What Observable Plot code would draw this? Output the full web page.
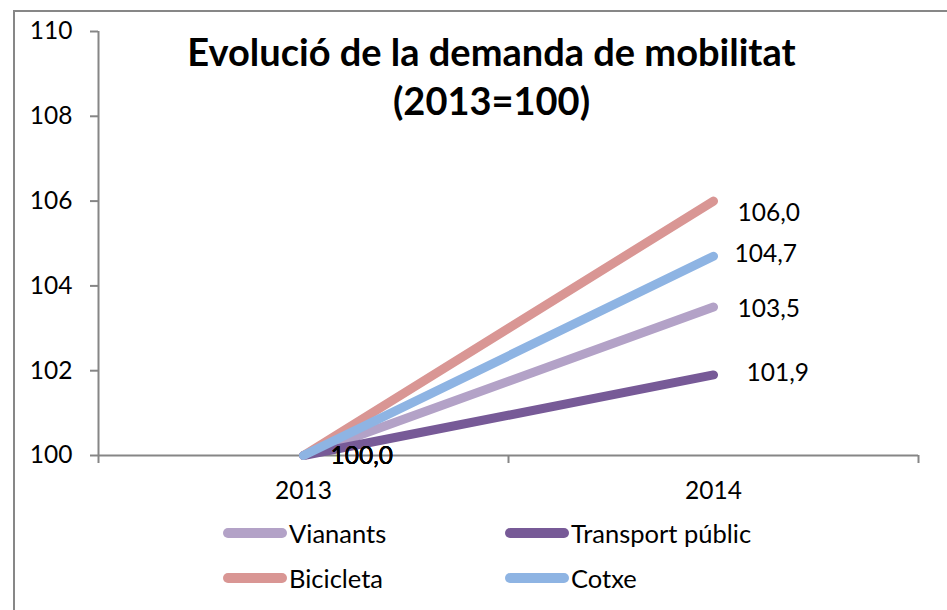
<!DOCTYPE html>
<html><head><meta charset="utf-8">
<script src="https://cdn.jsdelivr.net/npm/d3@7"></script>
<script src="https://cdn.jsdelivr.net/npm/@observablehq/plot@0.6"></script>
<style>
html,body{margin:0;padding:0;background:#fff}
body{width:947px;height:610px;overflow:hidden;position:relative;font-family:Lato,"Open Sans",sans-serif}
#border{position:absolute;left:13px;top:10px;width:1100px;height:800px;border:2px solid #878787;box-sizing:border-box;pointer-events:none}
#chart{position:absolute;left:0;top:0}
#chart svg{display:block;overflow:visible}
#legend{position:absolute;left:223px;top:510px;display:grid;grid-template-columns:282px 282px;grid-auto-rows:45px;font-size:25.5px;color:#000}
.item{display:flex;align-items:center;height:45px}
.sw{width:64px;height:10px;border-radius:5px;margin-right:2px;flex:none}
</style></head>
<body>
<div id="border"></div>
<div id="chart"></div>
<div id="legend"></div>
<script>
const years = [2013, 2014];
const series = ["Vianants", "Transport públic", "Bicicleta", "Cotxe"];
const values2013 = [100.0, 100.0, 100.0, 100.0];
const values2014 = [103.5, 101.9, 106.0, 104.7];
const colors = ["#b3a2c7", "#775a97", "#d99694", "#8eb4e3"];
const yTicks = [100, 102, 104, 106, 108, 110];
const titleText = "Evolució de la demanda de mobilitat\n(2013=100)";

// label nudges (layout only)
const labelNudge2014 = {"Vianants": [24, 2], "Transport públic": [33, -2], "Bicicleta": [24, 12], "Cotxe": [21, -2]};

const rows = [];
series.forEach((s, i) => {
  rows.push({series: s, year: years[0], value: values2013[i]});
  rows.push({series: s, year: years[1], value: values2014[i]});
});
const fmt = v => v.toFixed(1).replace(".", ",");
const axisColor = "#868686";
const FS = 24.5;

const labelMarks = series.map(s => {
  const [dx, dy] = labelNudge2014[s];
  return Plot.text(rows.filter(r => r.series === s && r.year === years[1]), {
    x: "year", y: "value", text: d => fmt(d.value), textAnchor: "start",
    dx, dy, fontSize: FS, fill: "#000"
  });
});

const chart = Plot.plot({
  width: 947,
  height: 510,
  marginLeft: 98,
  marginRight: 29,
  marginTop: 31,
  marginBottom: 55,
  style: {fontFamily: "Lato, 'Open Sans', sans-serif", background: "transparent"},
  x: {type: "linear", domain: [years[0] - 0.5, years[1] + 0.5], label: null},
  y: {domain: [100, 110], label: null},
  color: {domain: series, range: colors},
  marks: [
    Plot.ruleY([100], {stroke: axisColor, strokeWidth: 2}),
    Plot.ruleX([years[0] - 0.5], {stroke: axisColor, strokeWidth: 2}),
    Plot.axisY({ticks: yTicks, tickSize: 8, tickPadding: 18, tickFormat: d => String(d), stroke: axisColor, strokeWidth: 2, fill: "#000", fontSize: FS, label: null}),
    Plot.axisX({ticks: [years[0] - 0.5, years[0] + 0.5, years[1] + 0.5], tickSize: 8, tickFormat: () => "", stroke: axisColor, strokeWidth: 2, label: null}),
    Plot.axisX({ticks: years, tickSize: 0, tickPadding: 26, tickFormat: d => String(d), fill: "#000", fontSize: FS, label: null}),
    Plot.line(rows, {x: "year", y: "value", z: "series", stroke: "series", strokeWidth: 9, strokeLinecap: "round"}),
    Plot.text(rows.filter(r => r.year === years[0]), {x: "year", y: "value", text: d => fmt(d.value), textAnchor: "start", dx: 27, dy: 1, fontSize: FS, fill: "#000"}),
    ...labelMarks,
    Plot.text([titleText], {frameAnchor: "top", text: d => d, lineAnchor: "top", lineHeight: 1.3, dx: -17, dy: -1, fontSize: 38, fontWeight: "bold", fill: "#000"})
  ]
});
document.getElementById("chart").appendChild(chart);

const legend = document.getElementById("legend");
const order = [0, 1, 2, 3];
order.forEach(i => {
  const it = document.createElement("div");
  it.className = "item";
  const sw = document.createElement("div");
  sw.className = "sw";
  sw.style.background = colors[i];
  const t = document.createElement("span");
  t.textContent = series[i];
  it.appendChild(sw); it.appendChild(t);
  legend.appendChild(it);
});
</script>
</body></html>
